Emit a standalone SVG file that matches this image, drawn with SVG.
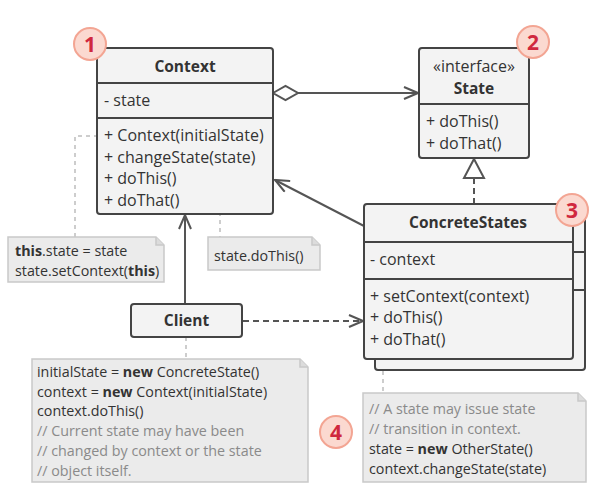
<svg xmlns="http://www.w3.org/2000/svg" width="598" height="497" viewBox="0 0 598 497">
<defs>
<style>
.box{fill:#f3f3f3;stroke:#444;stroke-width:2}
.div{stroke:#444;stroke-width:2;fill:none}
.t{font-family:"Open Sans","Liberation Sans",sans-serif;font-size:16px;fill:#333}
.h{font-size:15.5px;font-weight:bold}
.n{font-size:14.3px}
.b{font-weight:bold}
.c{fill:#8a8a8a}
.note{fill:#ebebeb;stroke:#c9c9c9;stroke-width:1.5}
.fold{fill:#dcdcdc;stroke:#c9c9c9;stroke-width:1.5}
.nl{stroke:#bdbdbd;stroke-width:1.5;stroke-dasharray:4 4;fill:none}
.conn{stroke:#555;stroke-width:2;fill:none}
.dash{stroke-dasharray:6 4}
.num{fill:#fbd9d0;stroke:#f3a593;stroke-width:2}
.numt{font-family:"Open Sans","Liberation Sans",sans-serif;font-size:21px;font-weight:bold;fill:#d0283e}
</style>
<marker id="open" viewBox="0 0 16 14" refX="15" refY="7" markerWidth="16" markerHeight="14" markerUnits="userSpaceOnUse" orient="auto">
<path d="M1,1 L15,7 L1,13" fill="none" stroke="#555" stroke-width="2"/>
</marker>
</defs>

<g id="connectors">
<line class="conn" x1="298" y1="93" x2="418" y2="93" marker-end="url(#open)"/>
<path d="M273,93 L285.5,86 L298,93 L285.5,100 Z" fill="#fff" stroke="#555" stroke-width="2"/>
<line class="conn dash" x1="474" y1="178" x2="474" y2="204"/>
<path d="M474,159 L484,178 L464,178 Z" fill="#fff" stroke="#555" stroke-width="2"/>
<line class="conn" x1="364" y1="226" x2="275" y2="180" marker-end="url(#open)"/>
<line class="conn" x1="185" y1="304" x2="185" y2="215" marker-end="url(#open)"/>
<line class="conn dash" x1="243" y1="321" x2="363" y2="321" marker-end="url(#open)"/>
<path class="nl" d="M75,237 L75,136 L97,136"/>
<path class="nl" d="M194,182 L220,182 L220,237"/>
<circle cx="190" cy="182" r="3.5" fill="#fff" stroke="#bdbdbd" stroke-width="1.5"/>
<line class="nl" x1="186" y1="337" x2="186" y2="359"/>
<line class="nl" x1="383" y1="371" x2="383" y2="393"/>
</g>

<g id="context">
<rect class="box" x="97" y="48" width="176" height="166" rx="3"/>
<line class="div" x1="97" y1="83" x2="273" y2="83"/>
<line class="div" x1="97" y1="118" x2="273" y2="118"/>
<text class="t h" x="185" y="71.5" text-anchor="middle">Context</text>
<text class="t" x="104" y="106">- state</text>
<text class="t" x="104" y="141">+ Context(initialState)</text>
<text class="t" x="104" y="162.5">+ changeState(state)</text>
<text class="t" x="104" y="184">+ doThis()</text>
<text class="t" x="104" y="205.5">+ doThat()</text>
</g>

<g id="state">
<rect class="box" x="419" y="48" width="110" height="110" rx="3"/>
<line class="div" x1="419" y1="104" x2="529" y2="104"/>
<text class="t" x="474" y="72" text-anchor="middle">«interface»</text>
<text class="t h" x="474" y="94" text-anchor="middle">State</text>
<text class="t" x="426" y="127">+ doThis()</text>
<text class="t" x="426" y="148.5">+ doThat()</text>
</g>

<g id="concretestates">
<rect class="box" x="375" y="215" width="210" height="155" rx="3"/>
<line class="div" x1="573" y1="252" x2="585" y2="252"/>
<line class="div" x1="573" y1="290" x2="585" y2="290"/>
<rect class="box" x="364" y="204" width="209" height="155" rx="3"/>
<line class="div" x1="364" y1="242" x2="573" y2="242"/>
<line class="div" x1="364" y1="279" x2="573" y2="279"/>
<text class="t h" x="468" y="227.5" text-anchor="middle">ConcreteStates</text>
<text class="t" x="370" y="264.5">- context</text>
<text class="t" x="370" y="301.5">+ setContext(context)</text>
<text class="t" x="370" y="323">+ doThis()</text>
<text class="t" x="370" y="345">+ doThat()</text>
</g>

<g id="client">
<rect class="box" x="131" y="304" width="111" height="33" rx="3"/>
<text class="t h" x="186.5" y="326" text-anchor="middle">Client</text>
</g>

<g id="note1">
<path class="note" d="M8,237 L156,237 L164,245 L164,282 L8,282 Z"/>
<path class="fold" d="M156,237 L156,245 L164,245"/>
<text class="t n" x="15" y="256"><tspan class="b">this</tspan>.state = state</text>
<text class="t n" x="15" y="275.5">state.setContext(<tspan class="b">this</tspan>)</text>
</g>

<g id="note2">
<path class="note" d="M208,237 L312,237 L320,245 L320,270 L208,270 Z"/>
<path class="fold" d="M312,237 L312,245 L320,245"/>
<text class="t n" x="214" y="261">state.doThis()</text>
</g>

<g id="note3">
<path class="note" d="M32,359 L300,359 L308,367 L308,482 L32,482 Z"/>
<path class="fold" d="M300,359 L300,367 L308,367"/>
<text class="t n" x="37" y="377">initialState = <tspan class="b">new</tspan> ConcreteState()</text>
<text class="t n" x="37" y="396.5">context = <tspan class="b">new</tspan> Context(initialState)</text>
<text class="t n" x="37" y="416">context.doThis()</text>
<text class="t n c" x="37" y="436">// Current state may have been</text>
<text class="t n c" x="37" y="456">// changed by context or the state</text>
<text class="t n c" x="37" y="476">// object itself.</text>
</g>

<g id="note4">
<path class="note" d="M363,393 L578,393 L586,401 L586,482 L363,482 Z"/>
<path class="fold" d="M578,393 L578,401 L586,401"/>
<text class="t n c" x="369" y="413.5">// A state may issue state</text>
<text class="t n c" x="369" y="433.5">// transition in context.</text>
<text class="t n" x="369" y="454">state = <tspan class="b">new</tspan> OtherState()</text>
<text class="t n" x="369" y="474">context.changeState(state)</text>
</g>

<g id="badge1"><circle class="num" cx="90" cy="44" r="16"/><text class="numt" x="90" y="51.5" text-anchor="middle">1</text></g>
<g id="badge2"><circle class="num" cx="533" cy="42" r="16"/><text class="numt" x="533" y="49.5" text-anchor="middle">2</text></g>
<g id="badge3"><circle class="num" cx="572" cy="210" r="16"/><text class="numt" x="572" y="217.5" text-anchor="middle">3</text></g>
<g id="badge4"><circle class="num" cx="336" cy="432" r="16"/><text class="numt" x="336" y="439.5" text-anchor="middle">4</text></g>
</svg>
